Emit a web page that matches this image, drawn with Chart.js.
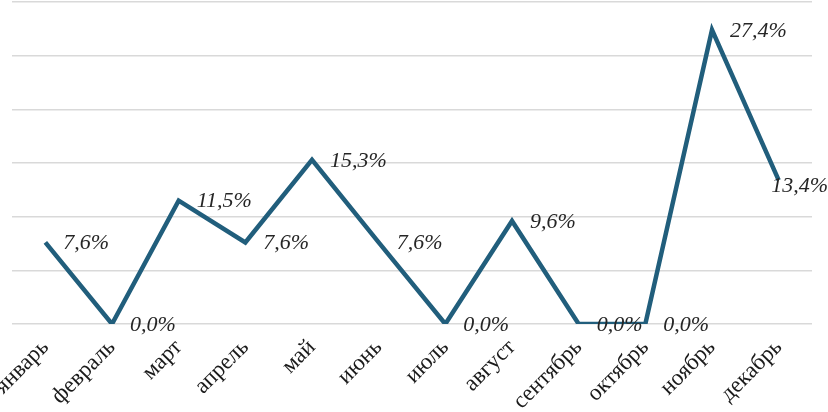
<!DOCTYPE html>
<html>
<head>
<meta charset="utf-8">
<script src="https://cdn.jsdelivr.net/npm/chart.js@4.4.1/dist/chart.umd.min.js"></script>
<style>
  html, body { margin: 0; padding: 0; background: #fff; }
  #wrap { width: 828px; height: 412px; position: relative; }
</style>
</head>
<body>
<div id="wrap"><canvas id="grafica"></canvas></div>
<script>
var meses = ["январь", "февраль", "март", "апрель", "май", "июнь", "июль", "август", "сентябрь", "октябрь", "ноябрь", "декабрь"];
var valores = [7.6, 0.0, 11.5, 7.6, 15.3, 7.6, 0.0, 9.6, 0.0, 0.0, 27.4, 13.4];
var yMin = 0, yMax = 30, yPaso = 5;

// etiquetas de datos a la derecha de cada punto
var etiquetas = {
  id: 'etiquetas',
  afterDatasetsDraw: function(chart) {
    var ctx = chart.ctx;
    var meta = chart.getDatasetMeta(0);
    ctx.save();
    ctx.font = 'italic 22px "Liberation Serif", "DejaVu Serif", serif';
    ctx.fillStyle = '#262626';
    ctx.textAlign = 'left';
    ctx.textBaseline = 'middle';
    meta.data.forEach(function(p, i) {
      var txt = valores[i].toFixed(1).replace('.', ',') + '%';
      var w = ctx.measureText(txt).width;
      var x = p.x + 18;
      var y = p.y + 1;
      if (x + w > chart.width) { x = chart.width - w; y = p.y + 6; }
      ctx.fillText(txt, x, y);
    });
    ctx.restore();
  }
};

var ctx = document.getElementById("grafica").getContext("2d");
var myChart = new Chart(ctx, {
  type: 'line',
  data: {
    labels: meses,
    datasets: [{
      data: valores,
      borderColor: '#215e7c',
      borderWidth: 4.5,
      pointRadius: 0,
      tension: 0,
      fill: false,
      borderJoinStyle: 'miter'
    }]
  },
  options: {
    responsive: true,
    maintainAspectRatio: false,
    animation: false,
    layout: { padding: { left: 12, right: 16, top: 2, bottom: 0 } },
    plugins: { legend: { display: false }, tooltip: { enabled: false } },
    scales: {
      x: {
        offset: true,
        grid: { display: false },
        border: { display: false },
        ticks: {
          maxRotation: 45,
          minRotation: 45,
          autoSkip: false,
          color: '#1a1a1a',
          padding: 2,
          font: { family: '"Liberation Serif", "DejaVu Serif", serif', size: 23 }
        },
        afterFit: function(scale) {
          scale.height = 88;
          scale.paddingLeft = 0;
          scale.paddingRight = 0;
        }
      },
      y: {
        min: yMin,
        max: yMax,
        ticks: { display: false, stepSize: yPaso },
        border: { display: false },
        grid: { color: '#d9d9d9', lineWidth: 1.5, drawTicks: false },
        afterFit: function(scale) { scale.width = 0; }
      }
    }
  },
  plugins: [etiquetas]
});
</script>
</body>
</html>
